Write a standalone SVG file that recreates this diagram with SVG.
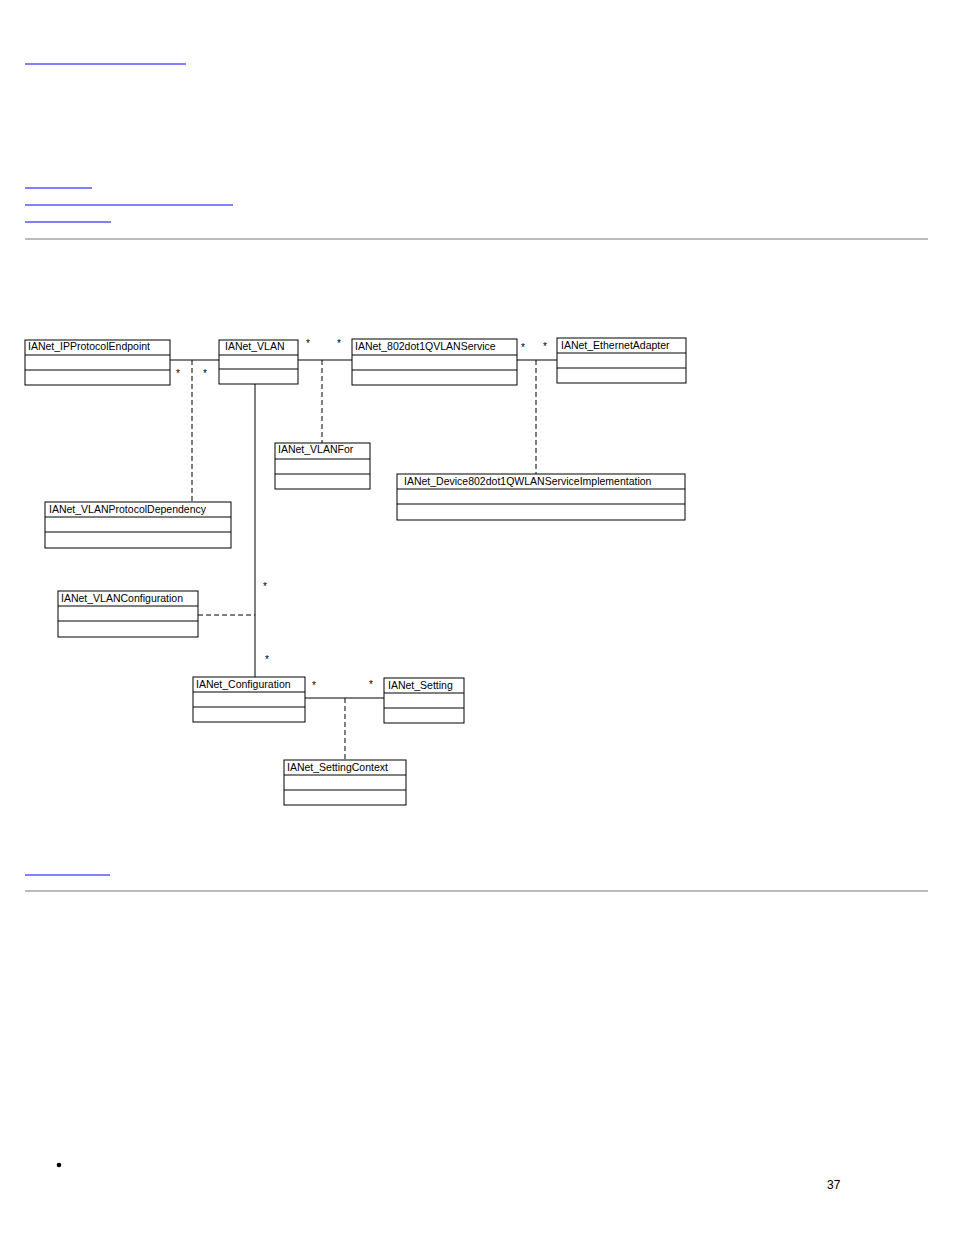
<svg xmlns="http://www.w3.org/2000/svg" width="954" height="1235" viewBox="0 0 954 1235">
<style>
.b{fill:#fff;stroke:#000;stroke-width:1}
.t{font-family:"Liberation Sans",Arial,sans-serif;font-size:10.5px;fill:#000}
.s{font-family:"Liberation Sans",Arial,sans-serif;font-size:10px;fill:#000}
.c{stroke:#000;stroke-width:1;fill:none}
.d{stroke:#000;stroke-width:1;fill:none;stroke-dasharray:5,3}
.u{stroke:#00f;stroke-width:1.2}
.h{stroke:#bbb;stroke-width:2}
</style>
<rect width="954" height="1235" fill="#fff"/>
<line class="u" x1="25" y1="64" x2="186" y2="64"/>
<line class="u" x1="25" y1="188" x2="92" y2="188"/>
<line class="u" x1="25" y1="205" x2="233" y2="205"/>
<line class="u" x1="25" y1="222" x2="111" y2="222"/>
<line class="u" x1="25" y1="875" x2="110" y2="875"/>
<line class="h" x1="25" y1="239" x2="928" y2="239"/>
<line class="h" x1="25" y1="891" x2="928" y2="891"/>
<g id="connectors">
<path class="c" d="M170 360H219M298 360H352M517 360H557M255 384V677M305 698H384"/>
<path class="d" d="M192 360V502M322 360V443M536 360V474M198 615H255M345 698V760"/>
<g class="s">
<text x="176" y="377">*</text><text x="203" y="377">*</text>
<text x="306" y="347">*</text><text x="337" y="347">*</text>
<text x="521" y="351">*</text><text x="543" y="350">*</text>
<text x="263" y="590">*</text><text x="265" y="663">*</text>
<text x="312" y="689">*</text><text x="369" y="688">*</text>
</g>
</g>
<g id="IPProtocolEndpoint"><rect class="b" x="25" y="340" width="145" height="45"/><path class="c" d="M25 355H170M25 370H170"/><text class="t" x="28" y="350">IANet_IPProtocolEndpoint</text></g>
<g id="VLAN"><rect class="b" x="219" y="340" width="79" height="44"/><path class="c" d="M219 355H298M219 369H298"/><text class="t" x="225" y="350">IANet_VLAN</text></g>
<g id="Service"><rect class="b" x="352" y="339" width="165" height="46"/><path class="c" d="M352 355H517M352 370H517"/><text class="t" x="355" y="350">IANet_802dot1QVLANService</text></g>
<g id="EthernetAdapter"><rect class="b" x="557" y="338" width="129" height="45"/><path class="c" d="M557 353H686M557 368H686"/><text class="t" x="561" y="349">IANet_EthernetAdapter</text></g>
<g id="VLANFor"><rect class="b" x="275" y="443" width="95" height="46"/><path class="c" d="M275 459H370M275 474H370"/><text class="t" x="278" y="453">IANet_VLANFor</text></g>
<g id="Impl"><rect class="b" x="397" y="474" width="288" height="46"/><path class="c" d="M397 489H685M397 504H685"/><text class="t" x="404" y="485">IANet_Device802dot1QWLANServiceImplementation</text></g>
<g id="ProtocolDependency"><rect class="b" x="45" y="502" width="186" height="46"/><path class="c" d="M45 517H231M45 532H231"/><text class="t" x="49" y="513">IANet_VLANProtocolDependency</text></g>
<g id="VLANConfiguration"><rect class="b" x="58" y="591" width="140" height="46"/><path class="c" d="M58 606H198M58 621H198"/><text class="t" x="61" y="602">IANet_VLANConfiguration</text></g>
<g id="Configuration"><rect class="b" x="193" y="677" width="112" height="45"/><path class="c" d="M193 692H305M193 707H305"/><text class="t" x="196" y="688">IANet_Configuration</text></g>
<g id="Setting"><rect class="b" x="384" y="678" width="80" height="45"/><path class="c" d="M384 693H464M384 708H464"/><text class="t" x="388" y="689">IANet_Setting</text></g>
<g id="SettingContext"><rect class="b" x="284" y="760" width="122" height="45"/><path class="c" d="M284 775H406M284 790H406"/><text class="t" x="287" y="771">IANet_SettingContext</text></g>
<circle cx="59" cy="1165" r="2.3" fill="#000"/>
<text x="827" y="1189" font-family="Liberation Sans,Arial,sans-serif" font-size="12">37</text>
</svg>
